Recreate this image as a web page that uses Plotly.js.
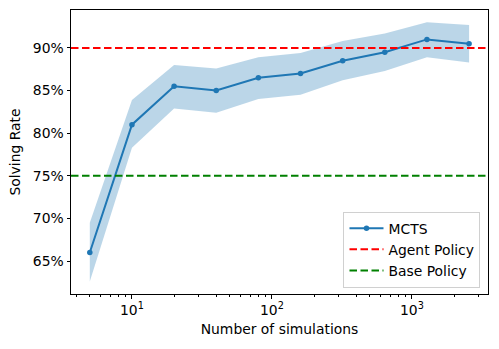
<!DOCTYPE html>
<html><head><meta charset="utf-8">
<script src="https://cdn.plot.ly/plotly-3.0.1.min.js"></script>
<style>body{margin:0;padding:0;background:#fff}#c{width:499px;height:349px}</style>
</head><body><div id="c"></div>
<script>
const simulations = [5, 10, 20, 40, 80, 160, 320, 640, 1280, 2560];
const mctsRate = [66.0, 81.0, 85.5, 85.0, 86.5, 87.0, 88.5, 89.5, 91.0, 90.5];
const bandUpper = [69.5, 83.9, 88.0, 87.6, 88.9, 89.4, 90.8, 91.7, 93.0, 92.7];
const bandLower = [62.6, 78.3, 82.9, 82.4, 84.0, 84.5, 86.2, 87.3, 88.9, 88.3];
const agentPolicy = 90;
const basePolicy = 75;
const xSpan = [3.67, 3494];
const yTicks = [65, 70, 75, 80, 85, 90];
const xTickVals = [10, 100, 1000];
const xTickText = ['10<sup>1</sup>', '10<sup>2</sup>', '10<sup>3</sup>'];
const xMinorTicks = [4, 5, 6, 7, 8, 9, 20, 30, 40, 50, 60, 70, 80, 90,
  200, 300, 400, 500, 600, 700, 800, 900, 2000, 3000];

const blue = '#1f77b4';
const traces = [
  {x: simulations, y: bandLower, mode: 'lines', line: {width: 0}, showlegend: false, hoverinfo: 'skip'},
  {x: simulations, y: bandUpper, mode: 'lines', line: {width: 0}, fill: 'tonexty',
   fillcolor: 'rgba(31,119,180,0.3)', showlegend: false, hoverinfo: 'skip'},
  {x: simulations, y: mctsRate, mode: 'lines+markers', name: 'MCTS',
   line: {color: blue, width: 2}, marker: {color: blue, size: 5.5}},
  {x: xSpan, y: [agentPolicy, agentPolicy], mode: 'lines', name: 'Agent Policy',
   line: {color: 'red', width: 2, dash: '7.5px,3.5px'}},
  {x: xSpan, y: [basePolicy, basePolicy], mode: 'lines', name: 'Base Policy',
   line: {color: 'green', width: 2, dash: '7.5px,3.5px'}},
  {x: xSpan, y: [basePolicy, basePolicy], xaxis: 'x2', mode: 'lines', line: {width: 0},
   showlegend: false, hoverinfo: 'skip'}
];
const font = {family: 'DejaVu Sans, sans-serif', size: 13.9, color: '#000'};
const xr = [Math.log10(xSpan[0]), Math.log10(xSpan[1])];
const layout = {
  width: 499, height: 349,
  margin: {l: 71, r: 11, t: 10, b: 55},
  paper_bgcolor: '#fff', plot_bgcolor: '#fff',
  font: font,
  showlegend: true,
  legend: {x: 0.982, y: 0.022, xanchor: 'right', yanchor: 'bottom', traceorder: 'normal',
    bgcolor: 'rgba(255,255,255,0.8)', bordercolor: '#d0d0d0', borderwidth: 1,
    font: font, tracegroupgap: 0, itemwidth: 34},
  xaxis: {type: 'log', range: xr,
    tickvals: xTickVals, ticktext: xTickText, ticks: 'outside', ticklen: 3.5,
    tickcolor: '#000', showgrid: false, zeroline: false,
    showline: true, mirror: true, linecolor: '#000', linewidth: 1,
    title: {text: 'Number of simulations', font: font, standoff: 7}},
  xaxis2: {type: 'log', range: xr, overlaying: 'x', anchor: 'y', side: 'bottom',
    tickvals: xMinorTicks, ticktext: xMinorTicks.map(() => ''), ticks: 'outside', ticklen: 2,
    tickcolor: '#000', showgrid: false, zeroline: false, showline: false},
  yaxis: {range: [61.13, 94.45], tickvals: yTicks, ticktext: yTicks.map(v => v + '%'),
    ticks: 'outside', ticklen: 3.5, tickcolor: '#000', showgrid: false, zeroline: false,
    showline: true, mirror: true, linecolor: '#000', linewidth: 1,
    title: {text: 'Solving Rate', font: font, standoff: 8}}
};
Plotly.newPlot('c', traces, layout, {displayModeBar: false, staticPlot: true});
</script></body></html>
